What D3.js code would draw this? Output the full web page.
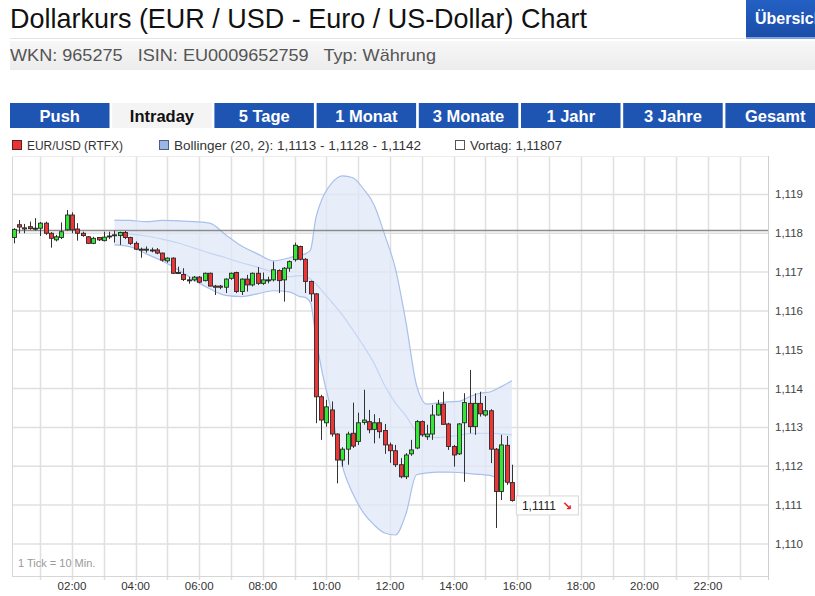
<!DOCTYPE html>
<html><head><meta charset="utf-8">
<script src="https://cdn.jsdelivr.net/npm/d3@7/dist/d3.min.js"></script>
<style>
body{margin:0;background:#fff;}
svg{display:block;font-family:"Liberation Sans",Arial,sans-serif;}
</style></head>
<body><svg id="chart" width="815" height="596"></svg>
<script>
// ---------- data ----------
const title = "Dollarkurs (EUR / USD - Euro / US-Dollar) Chart";
const infoLine = "WKN: 965275   ISIN: EU0009652759   Typ: Währung";
const buttonLabel = "Übersicht";
const tabLabels = ["Push","Intraday","5 Tage","1 Monat","3 Monate","1 Jahr","3 Jahre","Gesamt"];
const activeTab = "Intraday";
const legendItems = ["EUR/USD (RTFX)","Bollinger (20, 2): 1,1113 - 1,1128 - 1,1142","Vortag: 1,11807"];
const vortag = 1.11807;
const yTicks = [1.110,1.111,1.112,1.113,1.114,1.115,1.116,1.117,1.118,1.119];
const xLabelTimes = ["02:00","04:00","06:00","08:00","10:00","12:00","14:00","16:00","18:00","20:00","22:00"];
const xGridTimes = ["01:00","02:00","03:00","04:00","05:00","06:00","07:00","08:00","09:00","10:00","11:00","12:00","13:00","14:00","15:00","16:00","17:00","18:00","19:00","20:00","21:00","22:00","23:00"];
const tickNote = "1 Tick = 10 Min.";
const lastLabel = "1,1111";

const times = ["00:10","00:20","00:30","00:40","00:50","01:00","01:10","01:20","01:30","01:40","01:50","02:00","02:10","02:20","02:30","02:40","02:50","03:00","03:10","03:20","03:30","03:40","03:50","04:00","04:10","04:20","04:30","04:40","04:50","05:00","05:10","05:20","05:30","05:40","05:50","06:00","06:10","06:20","06:30","06:40","06:50","07:00","07:10","07:20","07:30","07:40","07:50","08:00","08:10","08:20","08:30","08:40","08:50","09:00","09:10","09:20","09:30","09:40","09:50","10:00","10:10","10:20","10:30","10:40","10:50","11:00","11:10","11:20","11:30","11:40","11:50","12:00","12:10","12:20","12:30","12:40","12:50","13:00","13:10","13:20","13:30","13:40","13:50","14:00","14:10","14:20","14:30","14:40","14:50","15:00","15:10","15:20","15:30","15:40","15:50"];
const open  = [1.11789,1.11822,1.11814,1.11817,1.11813,1.11813,1.11826,1.11800,1.11783,1.11789,1.11809,1.11847,1.11811,1.11800,1.11791,1.11774,1.11789,1.11781,1.11793,1.11796,1.11794,1.11802,1.11789,1.11774,1.11759,1.11758,1.11757,1.11757,1.11749,1.11729,1.11736,1.11699,1.11694,1.11680,1.11680,1.11687,1.11678,1.11697,1.11664,1.11664,1.11661,1.11684,1.11699,1.11650,1.11682,1.11667,1.11697,1.11671,1.11680,1.11680,1.11704,1.11680,1.11710,1.11732,1.11766,1.11733,1.11676,1.11644,1.11379,1.11312,1.11345,1.11283,1.11216,1.11244,1.11285,1.11264,1.11313,1.11315,1.11295,1.11312,1.11292,1.11255,1.11240,1.11204,1.11173,1.11232,1.11247,1.11315,1.11276,1.11283,1.11332,1.11360,1.11309,1.11251,1.11232,1.11312,1.11362,1.11302,1.11362,1.11332,1.11343,1.11244,1.11135,1.11254,1.11158];
const high  = [1.11813,1.11834,1.11824,1.11830,1.11839,1.11829,1.11830,1.11803,1.11796,1.11828,1.11860,1.11854,1.11826,1.11804,1.11793,1.11791,1.11790,1.11804,1.11804,1.11807,1.11804,1.11806,1.11791,1.11779,1.11763,1.11766,1.11763,1.11762,1.11750,1.11738,1.11738,1.11714,1.11710,1.11688,1.11690,1.11690,1.11699,1.11699,1.11667,1.11667,1.11684,1.11699,1.11701,1.11684,1.11693,1.11699,1.11713,1.11699,1.11688,1.11727,1.11707,1.11713,1.11730,1.11776,1.11768,1.11736,1.11678,1.11646,1.11384,1.11371,1.11367,1.11285,1.11249,1.11289,1.11364,1.11338,1.11397,1.11345,1.11334,1.11324,1.11309,1.11261,1.11255,1.11221,1.11234,1.11268,1.11319,1.11318,1.11307,1.11358,1.11371,1.11392,1.11312,1.11255,1.11311,1.11388,1.11448,1.11388,1.11392,1.11381,1.11347,1.11247,1.11281,1.11278,1.11204];
const low   = [1.11774,1.11800,1.11800,1.11809,1.11807,1.11793,1.11796,1.11763,1.11779,1.11785,1.11807,1.11800,1.11781,1.11791,1.11773,1.11772,1.11780,1.11779,1.11785,1.11776,1.11770,1.11785,1.11770,1.11757,1.11737,1.11750,1.11751,1.11746,1.11727,1.11724,1.11695,1.11695,1.11677,1.11670,1.11676,1.11671,1.11676,1.11663,1.11641,1.11656,1.11646,1.11680,1.11646,1.11641,1.11650,1.11663,1.11667,1.11667,1.11671,1.11676,1.11646,1.11624,1.11701,1.11727,1.11730,1.11646,1.11624,1.11311,1.11268,1.11302,1.11276,1.11156,1.11199,1.11204,1.11247,1.11255,1.11307,1.11285,1.11259,1.11272,1.11232,1.11209,1.11198,1.11169,1.11167,1.11227,1.11244,1.11276,1.11268,1.11268,1.11330,1.11307,1.11242,1.11199,1.11229,1.11160,1.11285,1.11281,1.11328,1.11328,1.11208,1.11041,1.11113,1.11152,1.11109];
const close = [1.11810,1.11816,1.11811,1.11812,1.11813,1.11826,1.11800,1.11787,1.11791,1.11804,1.11847,1.11809,1.11800,1.11794,1.11774,1.11787,1.11783,1.11790,1.11793,1.11795,1.11802,1.11789,1.11774,1.11759,1.11758,1.11759,1.11757,1.11749,1.11731,1.11736,1.11697,1.11699,1.11681,1.11680,1.11687,1.11674,1.11697,1.11664,1.11661,1.11661,1.11682,1.11697,1.11650,1.11682,1.11667,1.11697,1.11671,1.11680,1.11680,1.11706,1.11678,1.11710,1.11727,1.11769,1.11733,1.11676,1.11644,1.11379,1.11319,1.11353,1.11283,1.11216,1.11244,1.11283,1.11252,1.11312,1.11319,1.11294,1.11312,1.11289,1.11255,1.11240,1.11204,1.11173,1.11229,1.11242,1.11315,1.11281,1.11283,1.11332,1.11360,1.11308,1.11251,1.11229,1.11309,1.11364,1.11302,1.11362,1.11335,1.11343,1.11244,1.11135,1.11255,1.11159,1.11112];

// Bollinger band
const bandTimes  = ["03:20","03:50","04:20","04:50","05:20","05:50","06:20","06:50","07:20","07:50","08:20","08:50","09:10","09:20","09:30","09:40","09:50","10:10","10:30","10:50","11:10","11:30","11:50","12:10","12:30","12:50","13:10","13:30","13:50","14:10","14:30","14:50","15:10","15:30","15:50"];
const bandUpper  = [1.11834,1.11833,1.11830,1.11833,1.11832,1.11830,1.11826,1.11796,1.11767,1.11747,1.11729,1.11737,1.11744,1.11747,1.11757,1.11839,1.11882,1.11929,1.11948,1.11943,1.11914,1.11873,1.11796,1.11710,1.11572,1.11409,1.11360,1.11363,1.11366,1.11367,1.11379,1.11388,1.11392,1.11405,1.11420];
const bandMiddle = [1.11800,1.11798,1.11793,1.11785,1.11775,1.11762,1.11749,1.11737,1.11724,1.11713,1.11700,1.11688,1.11691,1.11690,1.11682,1.11670,1.11655,1.11623,1.11590,1.11551,1.11510,1.11465,1.11408,1.11363,1.11330,1.11289,1.11276,1.11274,1.11276,1.11280,1.11284,1.11285,1.11285,1.11283,1.11281];
const bandLower  = [1.11770,1.11765,1.11747,1.11729,1.11706,1.11680,1.11657,1.11640,1.11637,1.11644,1.11652,1.11649,1.11637,1.11635,1.11621,1.11533,1.11456,1.11337,1.11201,1.11129,1.11080,1.11049,1.11028,1.11023,1.11077,1.11178,1.11183,1.11185,1.11185,1.11184,1.11181,1.11179,1.11176,1.11167,1.11152];

// ---------- helpers ----------
const toMin = s => { const [h,m] = s.split(":").map(Number); return h*60+m; };
const deNum = (v,d) => v.toFixed(d).replace(".", ",");

const svg = d3.select("#chart");
const defs = svg.append("defs");

// ---------- header ----------
svg.append("text").attr("x",10).attr("y",28).attr("font-size",28).attr("fill","#111")
  .attr("textLength",577).attr("lengthAdjust","spacingAndGlyphs").text(title);
svg.append("line").attr("x1",10).attr("x2",745).attr("y1",38.5).attr("y2",38.5).attr("stroke","#e4e4e4");
const gBtn = defs.append("linearGradient").attr("id","btn").attr("x1",0).attr("x2",0).attr("y1",0).attr("y2",1);
gBtn.append("stop").attr("offset","0%").attr("stop-color","#2460c4");
gBtn.append("stop").attr("offset","100%").attr("stop-color","#1a4da6");
defs.append("clipPath").attr("id","btnclip").append("rect").attr("x",746).attr("y",0).attr("width",69).attr("height",39);
const btn = svg.append("g").attr("clip-path","url(#btnclip)");
btn.append("rect").attr("x",746).attr("y",0).attr("width",69).attr("height",38).attr("fill","url(#btn)");
btn.append("rect").attr("x",746).attr("y",37).attr("width",69).attr("height",2).attr("fill","#7fa3de");
btn.append("text").attr("x",755).attr("y",24).attr("font-size",16).attr("font-weight","bold").attr("fill","#fff").text(buttonLabel);
const gInfo = defs.append("linearGradient").attr("id","info").attr("x1",0).attr("x2",0).attr("y1",0).attr("y2",1);
gInfo.append("stop").attr("offset","0%").attr("stop-color","#f7f7f7");
gInfo.append("stop").attr("offset","100%").attr("stop-color","#ececec");
svg.append("rect").attr("x",10).attr("y",41).attr("width",805).attr("height",29).attr("fill","url(#info)");
svg.append("text").attr("x",10).attr("y",61).attr("font-size",17).attr("fill","#555")
  .attr("textLength",426).attr("lengthAdjust","spacingAndGlyphs").attr("xml:space","preserve").style("white-space","pre").text(infoLine);

// ---------- tabs ----------
const tabStep = 102.2, tabW = 99.5;
const tabs = svg.append("g");
tabLabels.forEach((t,i) => {
  const act = t === activeTab;
  const x0 = 10 + i*tabStep;
  tabs.append("rect").attr("x",x0).attr("y",103).attr("width",tabW).attr("height",25)
    .attr("fill", act ? "#f4f4f4" : "#1f55b2");
  tabs.append("text").attr("x",x0+tabW/2).attr("y",121.5).attr("text-anchor","middle")
    .attr("font-size",16.5).attr("font-weight","bold").attr("fill", act ? "#111" : "#fff").text(t);
});

// ---------- legend ----------
const legX = [12,159,455], legLen = [96,247,92];
const legFill = ["#ee3333","#9db5e4","#ffffff"], legStroke = ["#552222","#4a5f88","#555"];
legendItems.forEach((t,i)=>{
  svg.append("rect").attr("x",legX[i]+0.5).attr("y",140.5).attr("width",9).attr("height",9)
    .attr("fill",legFill[i]).attr("stroke",legStroke[i]);
  svg.append("text").attr("x",legX[i]+15).attr("y",150).attr("font-size",12.5).attr("fill","#333")
    .attr("textLength",legLen[i]).attr("lengthAdjust","spacingAndGlyphs").text(t);
});

// ---------- plot ----------
const P = {l:12, r:768, t:156, b:576};
const x = d3.scaleLinear().domain([0,1440]).range([8.4,771.6]);
const y = d3.scaleLinear().domain([1.1092,1.1200]).range([575,155.6]);

defs.append("clipPath").attr("id","plotclip").append("rect")
  .attr("x",P.l).attr("y",P.t).attr("width",P.r-P.l).attr("height",P.b-P.t);

const grid = svg.append("g");
grid.selectAll("line.v").data(xGridTimes).join("line")
  .attr("x1",d=>Math.round(x(toMin(d)))+0.5).attr("x2",d=>Math.round(x(toMin(d)))+0.5)
  .attr("y1",P.t).attr("y2",P.b+4).attr("stroke","#e0e0e0").attr("stroke-width",1.5);
grid.selectAll("line.h").data(yTicks).join("line")
  .attr("x1",P.l).attr("x2",P.r).attr("y1",d=>y(d)).attr("y2",d=>y(d))
  .attr("stroke","#e0e0e0").attr("stroke-width",1.5);
svg.append("line").attr("x1",P.l+0.5).attr("x2",P.l+0.5).attr("y1",P.t).attr("y2",P.b).attr("stroke","#d6d6d6");
svg.append("line").attr("x1",P.l).attr("x2",P.r).attr("y1",P.t+0.5).attr("y2",P.t+0.5).attr("stroke","#ececec");
svg.append("line").attr("x1",P.l).attr("x2",P.r).attr("y1",P.b+0.5).attr("y2",P.b+0.5).attr("stroke","#d6d6d6");
svg.append("line").attr("x1",P.r+0.5).attr("x2",P.r+0.5).attr("y1",P.t).attr("y2",P.b+4).attr("stroke","#cfcfcf");

const plot = svg.append("g").attr("clip-path","url(#plotclip)");

// Bollinger band
const band = bandTimes.map((t,i)=>({t:toMin(t),u:bandUpper[i],m:bandMiddle[i],l:bandLower[i]}));
const curve = d3.curveMonotoneX;
plot.append("path").datum(band)
  .attr("d", d3.area().x(d=>x(d.t)).y0(d=>y(d.l)).y1(d=>y(d.u)).curve(curve))
  .attr("fill","#dfe8f8").attr("fill-opacity",0.75);
["u","l"].forEach(k=>{
  plot.append("path").datum(band).attr("d", d3.line().x(d=>x(d.t)).y(d=>y(d[k])).curve(curve))
    .attr("fill","none").attr("stroke","#a9c0ea").attr("stroke-width",1.2);
});
plot.append("path").datum(band).attr("d", d3.line().x(d=>x(d.t)).y(d=>y(d.m)).curve(curve))
  .attr("fill","none").attr("stroke","#c4d5f2").attr("stroke-width",1.2);

// Vortag line
plot.append("line").attr("x1",P.l).attr("x2",P.r).attr("y1",y(vortag)).attr("y2",y(vortag))
  .attr("stroke","#8c8c8c").attr("stroke-width",1.5);

// candles
const candles = times.map((t,i)=>({t:toMin(t),o:open[i],h:high[i],l:low[i],c:close[i]}));
const cg = plot.append("g");
cg.selectAll("line.w").data(candles).join("line")
  .attr("x1",d=>Math.round(x(d.t))+0.5).attr("x2",d=>Math.round(x(d.t))+0.5)
  .attr("y1",d=>y(d.h)).attr("y2",d=>y(d.l)).attr("stroke","#333").attr("stroke-width",1);
cg.selectAll("rect.b").data(candles).join("rect")
  .attr("x",d=>Math.round(x(d.t))-1.5).attr("width",4)
  .attr("y",d=>y(Math.max(d.o,d.c)))
  .attr("height",d=>Math.max(1,Math.abs(y(d.o)-y(d.c))))
  .attr("fill",d=> d.c>d.o ? "#35e635" : (d.c<d.o ? "#ee3535" : "#333"))
  .attr("stroke","#2a2a2a").attr("stroke-width",0.9);

// ---------- axes ----------
const yAxis = svg.append("g");
yAxis.selectAll("text").data(yTicks).join("text")
  .attr("x",775).attr("y",d=>y(d)+4).attr("font-size",11.5).attr("fill","#444")
  .text(d=>deNum(d,3));
const xAxis = svg.append("g");
xAxis.selectAll("text").data(xLabelTimes).join("text")
  .attr("x",d=>x(toMin(d))).attr("y",590).attr("text-anchor","middle")
  .attr("font-size",11.5).attr("fill","#333").text(d=>d);
svg.append("text").attr("x",18).attr("y",567).attr("font-size",11).attr("fill","#9a9a9a").text(tickNote);

// last price label
const last = candles[candles.length-1];
const lx = x(last.t)+4, ly = y(last.c)+5;
svg.append("rect").attr("x",lx+0.5).attr("y",ly-9.5).attr("width",62).attr("height",19)
  .attr("fill","#fff").attr("stroke","#d6d6d6");
svg.append("text").attr("x",lx+6).attr("y",ly+4.5).attr("font-size",12).attr("fill","#222").text(lastLabel);
svg.append("text").attr("x",lx+46).attr("y",ly+5).attr("font-size",12).attr("font-weight","bold")
  .attr("fill","#e02020").attr("font-family","DejaVu Sans").text("↘");
</script></body></html>
